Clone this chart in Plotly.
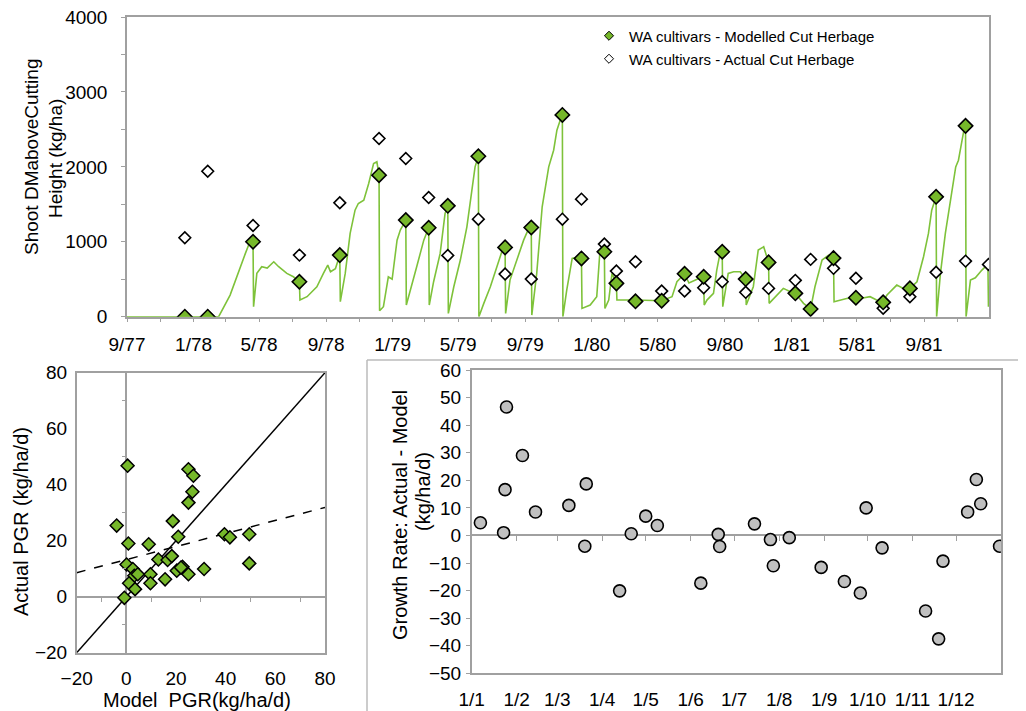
import pandas as pd
import plotly.graph_objects as go

# ---------------- data ----------------
START = pd.Timestamp("1977-09-01")   # day 0 of the experiment

# Modelled herbage mass above cutting height (days since 1 Sep 1977, kg/ha)
line_day = [0, 168, 189, 205, 217, 223, 231, 232, 238, 247, 257, 269, 278, 293, 305, 316, 317,
            330, 348, 360, 368, 373, 382, 390, 391, 400, 409, 418, 424, 434, 443, 452, 458, 462,
            463, 470, 479, 486, 495, 501, 511, 512, 519, 531, 544, 553, 554, 562, 574, 583, 588,
            589, 599, 611, 623, 632, 638, 644, 645, 654, 666, 678, 690, 693, 694, 702, 715, 727,
            739, 741, 742, 751, 761, 773, 782, 788, 794, 798, 799, 806, 816, 828, 833, 834, 849,
            861, 867, 873, 875, 876, 883, 889, 897, 898, 932, 980, 999, 1008, 1022, 1030, 1045,
            1057, 1058, 1063, 1075, 1081, 1087, 1091, 1092, 1102, 1112, 1124, 1134, 1135, 1148,
            1157, 1167, 1176, 1177, 1188, 1203, 1216, 1225, 1240, 1253, 1261, 1274, 1286, 1295,
            1296, 1308, 1319, 1336, 1344, 1362, 1374, 1386, 1393, 1411, 1423, 1435, 1448, 1460,
            1469, 1475, 1483, 1484, 1491, 1500, 1510, 1519, 1524, 1530, 1534, 1537, 1538, 1546,
            1555, 1567, 1578, 1579]
line_val = [0, 0, 289, 622, 845, 956, 1000, 133, 578, 667, 650, 733, 667, 578, 533, 467, 222,
            267, 400, 578, 689, 600, 640, 822, 200, 578, 1111, 1422, 1511, 1556, 1778, 2044, 2067,
            1889, 80, 133, 533, 500, 1022, 1156, 1289, 156, 356, 667, 1022, 1187, 156, 467, 845,
            1378, 1480, 44, 400, 756, 1200, 1645, 2000, 2142, 0, 178, 400, 667, 933, 925, 44, 489,
            756, 1022, 1222, 1191, 22, 578, 1467, 2000, 2222, 2489, 2622, 2693, 0, 356, 778, 800,
            778, 111, 156, 267, 889, 933, 867, 111, 222, 578, 445, 222, 222, 213, 267, 467, 573,
            450, 500, 533, 156, 222, 311, 622, 845, 867, 133, 578, 600, 600, 502, 156, 400, 889,
            933, 725, 178, 267, 378, 333, 312, 178, 103, 400, 756, 822, 782, 200, 222, 244, 253,
            244, 267, 222, 210, 289, 422, 378, 378, 467, 800, 1111, 1422, 1600, 0, 578, 1111, 1556,
            2000, 2089, 2356, 2489, 2547, 0, 489, 520, 622, 700, 133]

# Harvests (days since 1 Sep 1977)
harvest_day = [106, 148, 231, 316, 390, 462, 511, 553, 588, 644, 693, 741, 798, 833, 875, 897,
               932, 980, 1022, 1057, 1091, 1134, 1176, 1225, 1253, 1295, 1336, 1386, 1435, 1483, 1537]
modelled_cut = [0, 0, 1000, 467, 822, 1889, 1289, 1187, 1480, 2142, 925, 1191, 2693, 778, 867, 445,
                205, 213, 573, 533, 867, 502, 725, 312, 103, 782, 253, 192, 378, 1600, 2547]
actual_day = harvest_day + [1579]
actual_cut = [1053, 1942, 1218, 822, 1520, 2378, 2111, 1591, 818, 1302, 569, 502, 1302, 1569, 969,
              609, 733, 342, 342, 387, 467, 325, 378, 485, 765, 645, 512, 112, 267, 592, 742, 698]

top_tick_dates = ["1977-09-01", "1978-01-01", "1978-05-01", "1978-09-01", "1979-01-01",
                  "1979-05-01", "1979-09-01", "1980-01-01", "1980-05-01", "1980-09-01",
                  "1981-01-01", "1981-05-01", "1981-09-01"]
top_tick_labels = ["9/77", "1/78", "5/78", "9/78", "1/79", "5/79", "9/79", "1/80", "5/80",
                   "9/80", "1/81", "5/81", "9/81"]

# Model vs actual pasture growth rate (kg/ha/d)
model_pgr = [0.5, -3.9, 0.8, 9.0, 0.1, 2.6, 3.2, 4.6, 1.1, 3.5, -0.8, 9.7, 9.7, 12.9, 16.6, 18.3,
             15.6, 18.7, 20.9, 20.3, 22.6, 22.0, 25.0, 31.3, 25.0, 27.0, 26.6, 25.0, 39.5, 41.7,
             49.5, 49.5]
actual_pgr = [46.8, 25.4, 19.0, 18.7, 11.5, 9.9, 7.5, 8.0, 4.8, 2.7, -0.4, 8.0, 4.8, 13.3, 13.1,
              14.5, 6.2, 27.0, 21.4, 9.3, 10.7, 10.4, 8.0, 9.9, 45.5, 43.2, 37.5, 33.6, 22.3, 21.2,
              22.3, 11.9]
trend_slope = 0.233
trend_intercept = 13.25

# Growth rate difference (actual - model) by day of year
diff_doy = [6, 22, 23, 24, 35, 44, 67, 79, 78, 102, 110, 120, 128, 158, 170, 171, 195, 206, 208,
            219, 241, 257, 268, 272, 283, 313, 322, 325, 342, 348, 351, 364]
diff_val = [4.6, 1.0, 16.6, 46.6, 29.0, 8.5, 10.9, 18.7, -3.9, -20.1, 0.6, 7.0, 3.6, -17.3, 0.4,
            -4.0, 4.2, -1.5, -11.0, -0.8, -11.6, -16.7, -20.9, 10.0, -4.5, -27.4, -37.5, -9.3,
            8.5, 20.3, 11.5, -3.9]
month_tick_dates = ["2001-%02d-01" % m for m in range(1, 13)]
month_tick_labels = ["1/1", "1/2", "1/3", "1/4", "1/5", "1/6", "1/7", "1/8", "1/9", "1/10",
                     "1/11", "1/12"]

# ---------------- styling ----------------
PAGE_W, PAGE_H = 1026, 711
BODY = 8                      # default page margin around the figure div
W, H = PAGE_W - BODY, PAGE_H - BODY
FONT = "Liberation Sans, Arial, sans-serif"
GREEN = "#76B82A"
LINEGREEN = "#7EC23A"
AX = "#A0A0A0"


def px_x(p):
    """page pixel -> paper fraction"""
    return (p - BODY) / W


def px_y(p):
    return 1 - (p - BODY) / H


to_date = lambda days: [START + pd.Timedelta(days=d) for d in days]
doy_date = [pd.Timestamp("2001-01-01") + pd.Timedelta(days=d) for d in diff_doy]

fig = go.Figure()

# top panel
fig.add_trace(go.Scatter(x=to_date(line_day), y=line_val, mode="lines",
                         line=dict(color=LINEGREEN, width=1.6), showlegend=False,
                         xaxis="x", yaxis="y"))
fig.add_trace(go.Scatter(x=to_date(actual_day), y=actual_cut, mode="markers",
                         marker=dict(symbol="diamond", size=9, color="white",
                                     line=dict(color="black", width=1.6)),
                         showlegend=False, xaxis="x", yaxis="y"))
fig.add_trace(go.Scatter(x=to_date(harvest_day), y=modelled_cut, mode="markers",
                         marker=dict(symbol="diamond", size=11, color=GREEN,
                                     line=dict(color="black", width=1.6)),
                         showlegend=False, xaxis="x", yaxis="y"))
# legend entries
fig.add_trace(go.Scatter(x=[None], y=[None], mode="markers", name="WA cultivars - Modelled Cut Herbage",
                         marker=dict(symbol="diamond", size=7, color=GREEN,
                                     line=dict(color="black", width=1)),
                         legend="legend", xaxis="x", yaxis="y"))
fig.add_trace(go.Scatter(x=[None], y=[None], mode="markers", name="WA cultivars - Actual Cut Herbage",
                         marker=dict(symbol="diamond", size=7, color="white",
                                     line=dict(color="black", width=1)),
                         legend="legend2", xaxis="x", yaxis="y"))

# bottom-left scatter
lims = [-20, 80]
fig.add_trace(go.Scatter(x=lims, y=lims, mode="lines", line=dict(color="black", width=1.5),
                         showlegend=False, xaxis="x2", yaxis="y2"))
fig.add_trace(go.Scatter(x=lims, y=[trend_intercept + trend_slope * v for v in lims], mode="lines",
                         line=dict(color="black", width=1.5, dash="dash"),
                         showlegend=False, xaxis="x2", yaxis="y2"))
fig.add_trace(go.Scatter(x=model_pgr, y=actual_pgr, mode="markers",
                         marker=dict(symbol="diamond", size=10, color=GREEN,
                                     line=dict(color="black", width=1.5)),
                         showlegend=False, xaxis="x2", yaxis="y2"))
# carriers for the zero-crossing tick axes
fig.add_trace(go.Scatter(x=[None], y=[None], showlegend=False, xaxis="x4", yaxis="y2"))
fig.add_trace(go.Scatter(x=[None], y=[None], showlegend=False, xaxis="x2", yaxis="y4"))

# bottom-right scatter
fig.add_trace(go.Scatter(x=doy_date, y=diff_val, mode="markers",
                         marker=dict(symbol="circle", size=12, color="#C0C0C0",
                                     line=dict(color="black", width=1.6)),
                         showlegend=False, xaxis="x3", yaxis="y3"))
fig.add_trace(go.Scatter(x=[None], y=[None], showlegend=False, xaxis="x5", yaxis="y3"))

# domains (page pixels of the plot-area edges)
top_x = [px_x(127), px_x(989)]
top_y = [px_y(316.7), px_y(17)]
bl_x = [px_x(76.7), px_x(325)]
bl_y = [px_y(652.7), px_y(372.7)]
br_x = [px_x(471.7), px_x(1001)]
br_y = [px_y(673.3), px_y(370)]


def zero_pos(dom, rng):
    return dom[0] + (0 - rng[0]) / (rng[1] - rng[0]) * (dom[1] - dom[0])


common = dict(showgrid=False, showline=True, linecolor=AX, linewidth=1.5, mirror=True,
              tickcolor=AX, tickfont=dict(size=19, color="black"), ticklabeloverflow="allow")

fig.update_layout(
    width=W, height=H, margin=dict(l=0, r=0, t=0, b=0, autoexpand=False),
    paper_bgcolor="white", plot_bgcolor="white",
    font=dict(family=FONT, color="black"),
    xaxis=dict(domain=top_x, anchor="y", type="date",
               range=[START, START + pd.Timedelta(days=1580)],
               tickvals=top_tick_dates, ticktext=top_tick_labels,
               ticks="outside", ticklen=4, zeroline=False, ticklabelstandoff=6,
               minor=dict(dtick="M2", tick0="1977-09-01", ticks="outside", ticklen=4,
                          tickcolor=AX, showgrid=False),
               **common),
    yaxis=dict(domain=top_y, anchor="x", range=[0, 4000], dtick=1000, ticks="outside",
               ticklen=4, zeroline=False, ticklabelstandoff=10,
               minor=dict(dtick=500, ticks="outside", ticklen=4, tickcolor=AX, showgrid=False),
               **common),
    xaxis2=dict(domain=bl_x, anchor="y2", range=lims, dtick=20, ticks="",
                zeroline=True, zerolinecolor=AX, zerolinewidth=1.5, ticklabelstandoff=8,
                **common),
    yaxis2=dict(domain=bl_y, anchor="x2", range=lims, dtick=20, ticks="",
                zeroline=True, zerolinecolor=AX, zerolinewidth=1.5, ticklabelstandoff=4,
                **common),
    xaxis4=dict(overlaying="x2", anchor="free", position=zero_pos(bl_y, lims), range=lims,
                tickvals=[-10, 10, 30, 50, 70], ticks="outside", ticklen=4, tickcolor=AX,
                showticklabels=False, showline=False, showgrid=False, zeroline=False),
    yaxis4=dict(overlaying="y2", anchor="free", position=zero_pos(bl_x, lims), range=lims,
                tickvals=[-10, 10, 30, 50, 70], ticks="outside", ticklen=4, tickcolor=AX,
                showticklabels=False, showline=False, showgrid=False, zeroline=False),
    xaxis3=dict(domain=br_x, anchor="y3", type="date", range=["2001-01-01", "2002-01-01"],
                tickvals=month_tick_dates, ticktext=month_tick_labels, ticks="",
                zeroline=False, ticklabelstandoff=8, **common),
    yaxis3=dict(domain=br_y, anchor="x3", range=[-50, 60], dtick=10, ticks="outside",
                ticklen=4, zeroline=True, zerolinecolor=AX, zerolinewidth=1.5,
                ticklabelstandoff=1, **common),
    xaxis5=dict(overlaying="x3", anchor="free", position=zero_pos(br_y, [-50, 60]), type="date",
                range=["2001-01-01", "2002-01-01"], tickvals=month_tick_dates[1:],
                ticks="outside", ticklen=5, tickcolor=AX, showticklabels=False,
                showline=False, showgrid=False, zeroline=False),
    legend=dict(x=px_x(589), y=px_y(36), xanchor="left", yanchor="middle",
                bgcolor="rgba(0,0,0,0)", font=dict(size=15, family=FONT)),
    legend2=dict(x=px_x(589), y=px_y(59), xanchor="left", yanchor="middle",
                 bgcolor="rgba(0,0,0,0)", font=dict(size=15, family=FONT)),
    shapes=[
        dict(type="line", xref="paper", yref="paper", x0=px_x(367), x1=1.0, y0=px_y(360),
             y1=px_y(360), line=dict(color="#BBBBBB", width=1.5)),
        dict(type="line", xref="paper", yref="paper", x0=px_x(367), x1=px_x(367),
             y0=px_y(360), y1=0, line=dict(color="#BBBBBB", width=1.5)),
    ],
    annotations=[
        dict(text="Shoot DMaboveCutting", x=px_x(32), y=px_y(157), xref="paper", yref="paper",
             textangle=-90, showarrow=False, font=dict(size=19), xanchor="center",
             yanchor="middle"),
        dict(text="Height (kg/ha)", x=px_x(55), y=px_y(159), xref="paper", yref="paper",
             textangle=-90, showarrow=False, font=dict(size=19), xanchor="center",
             yanchor="middle"),
        dict(text="Actual PGR (kg/ha/d)", x=px_x(21), y=px_y(522), xref="paper", yref="paper",
             textangle=-90, showarrow=False, font=dict(size=20), xanchor="center",
             yanchor="middle"),
        dict(text="Model\u00a0 PGR(kg/ha/d)", x=px_x(197), y=px_y(700), xref="paper",
             yref="paper", showarrow=False, font=dict(size=20), xanchor="center",
             yanchor="middle"),
        dict(text="Growth Rate: Actual - Model", x=px_x(400), y=px_y(515), xref="paper",
             yref="paper", textangle=-90, showarrow=False, font=dict(size=20),
             xanchor="center", yanchor="middle"),
        dict(text="(kg/ha/d)", x=px_x(423), y=px_y(492), xref="paper", yref="paper",
             textangle=-90, showarrow=False, font=dict(size=20), xanchor="center",
             yanchor="middle"),
    ],
)

fig.write_html("out.html")
